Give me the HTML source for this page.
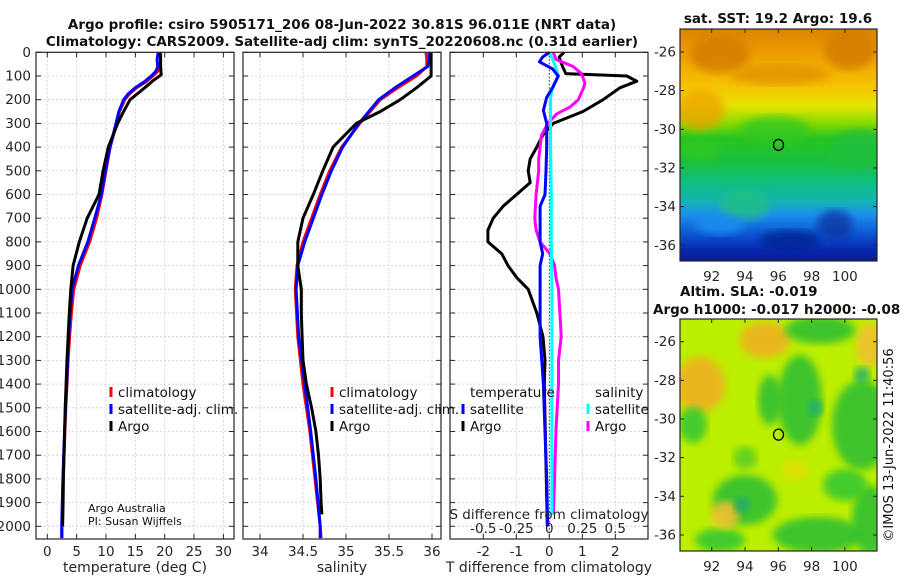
<!DOCTYPE html>
<html><head><meta charset="utf-8">
<style>
body{margin:0;background:#fff;}
svg text{font-family:"DejaVu Sans","Liberation Sans",sans-serif;}
</style></head>
<body>
<svg id="fig" width="900" height="580" viewBox="0 0 900 580" xmlns="http://www.w3.org/2000/svg">
<defs>
<linearGradient id="sstGrad" x1="0" y1="0" x2="0" y2="1">
<stop offset="0" stop-color="#dc8200"/>
<stop offset="0.12" stop-color="#eea000"/>
<stop offset="0.25" stop-color="#f6c400"/>
<stop offset="0.33" stop-color="#e6e400"/>
<stop offset="0.4" stop-color="#90dc00"/>
<stop offset="0.47" stop-color="#28c420"/>
<stop offset="0.58" stop-color="#18c040"/>
<stop offset="0.66" stop-color="#10c080"/>
<stop offset="0.74" stop-color="#14b4b0"/>
<stop offset="0.8" stop-color="#1c90ec"/>
<stop offset="0.88" stop-color="#0c58d4"/>
<stop offset="0.95" stop-color="#0828b0"/>
<stop offset="1" stop-color="#061c90"/>
</linearGradient>
<filter id="blur6"><feGaussianBlur stdDeviation="6"/></filter>
<filter id="blur4"><feGaussianBlur stdDeviation="4"/></filter>
<clipPath id="clipMap1"><rect x="680" y="29" width="197" height="232"/></clipPath>
<clipPath id="clipMap2"><rect x="680" y="319" width="197" height="232"/></clipPath>
</defs>
<g id="layer"></g>
</svg>
<script>
// ---------------- data ----------------
const depthTicks = [0,100,200,300,400,500,600,700,800,900,1000,1100,1200,1300,1400,1500,1600,1700,1800,1900,2000];
const tempTicks = [0,5,10,15,20,25,30];
const salTicks = [34,34.5,35,35.5,36];
const tdiffTicks = [-2,-1,0,1,2];
const sdiffTicks = [-0.5,-0.25,0,0.25,0.5];
const sdiffTickLabels = ["-0.5","-0.25","0","0.25","0.5"];

const argoTDepth = [0,30,60,95,120,150,200,250,300,400,500,600,700,800,900,1000,1100,1200,1300,1400,1500,1600,1700,1800,1900,2000];
const argoTemp   = [19.2,19.3,19.3,19.4,18.0,16.6,14.1,13.0,12.0,10.4,9.5,8.8,6.8,5.45,4.4,4.0,3.75,3.55,3.35,3.2,3.05,2.95,2.85,2.75,2.7,2.6];
const climTDepth = [0,30,60,80,100,125,150,175,200,250,300,400,500,600,700,800,900,1000,1100,1200,1300,1400,1500,1600,1700,1800,1900,2000,2050];
const climTemp   = [19.3,19.3,19.2,18.8,18.0,16.8,15.2,14.0,13.2,12.3,11.8,10.7,10.0,9.3,8.4,7.2,5.6,4.5,4.1,3.8,3.55,3.35,3.15,3.0,2.85,2.7,2.6,2.5,2.5];
const satTemp    = [18.9,18.7,18.8,18.5,17.7,16.5,15.0,13.8,13.0,12.2,11.7,10.7,9.9,9.2,8.1,6.9,5.3,4.2,3.9,3.65,3.45,3.3,3.1,2.95,2.8,2.65,2.55,2.45,2.45];

const argoSDepth = [0,50,100,150,200,250,300,400,500,600,700,800,900,1000,1100,1200,1300,1400,1500,1600,1700,1800,1900,1950];
const argoSal    = [35.99,35.99,35.99,35.82,35.63,35.40,35.12,34.85,34.73,34.62,34.50,34.44,34.44,34.48,34.48,34.49,34.50,34.54,34.60,34.65,34.68,34.70,34.71,34.72];
const climSDepth = [0,30,60,100,150,200,300,400,500,600,700,800,900,1000,1200,1400,1600,1800,2000,2050];
const climSal    = [35.93,35.94,35.94,35.82,35.60,35.40,35.16,34.95,34.81,34.70,34.60,34.50,34.43,34.41,34.44,34.50,34.58,34.64,34.70,34.71];
const satSal     = [35.97,35.97,35.95,35.78,35.57,35.38,35.15,34.96,34.83,34.72,34.62,34.52,34.44,34.42,34.45,34.52,34.59,34.65,34.70,34.70];

const dTDepth  = [0,20,40,60,90,100,122,150,200,250,300,350,400,450,500,550,600,650,700,750,800,850,900,950,1000,1100,1200,1300,1400,1600,1800,2000];
const argoDT   = [0.45,0.3,0.35,0.4,0.5,2.35,2.65,2.14,1.63,1.02,0.12,-0.2,-0.38,-0.58,-0.64,-0.58,-0.99,-1.4,-1.7,-1.86,-1.86,-1.44,-1.25,-0.99,-0.64,-0.38,-0.19,-0.13,-0.15,-0.12,-0.09,-0.06];
const satDTDepth = [0,20,40,70,100,150,190,245,300,400,500,600,650,700,800,850,900,1000,1100,1200,1400,1600,1800,2000];
const satDT    = [0,-0.2,-0.3,0.1,0.27,0.1,-0.08,-0.18,-0.08,-0.08,-0.1,-0.13,-0.28,-0.28,-0.28,-0.2,-0.28,-0.28,-0.28,-0.28,-0.18,-0.13,-0.08,-0.05];
const dSDepth  = [0,30,60,90,130,150,200,230,260,300,350,400,450,500,600,700,750,800,850,900,950,1000,1100,1200,1300,1400,1600,1800,1950];
const argoDS   = [0.03,0.05,0.18,0.245,0.27,0.26,0.22,0.16,0.056,-0.01,-0.06,-0.07,-0.08,-0.08,-0.1,-0.11,-0.1,-0.07,0.005,0.04,0.05,0.07,0.08,0.09,0.07,0.07,0.05,0.04,0.03];
const satDSDepth = [0,50,100,150,200,400,600,800,1000,1200,1400,1600,1800,1950];
const satDS    = [0,0.04,0.07,0.02,0.01,0.01,0.015,0.015,0.02,0.02,0.02,0.02,0.02,0.02];

const lonTicks = [92,94,96,98,100];
const latTicks = [-26,-28,-30,-32,-34,-36];
const argoLon = 96.011, argoLat = -30.81;

// ---------------- helpers ----------------
const NS = "http://www.w3.org/2000/svg";
const root = document.getElementById('layer');
function mk(tag, attrs, parent){ const e=document.createElementNS(NS,tag); for(const k in attrs) e.setAttribute(k,attrs[k]); (parent||root).appendChild(e); return e; }
function txt(x,y,s,attrs,parent){ const e=mk('text',Object.assign({x:x,y:y,'font-size':13.5,fill:'#262626'},attrs||{}),parent); e.textContent=s; return e; }

const top0 = 52.3, pxPerM = 0.237, bottom = 539;
const yD = d => top0 + d*pxPerM;
const panels = [
  {x0:36, x1:234, name:'temperature-panel'},
  {x0:243, x1:441, name:'salinity-panel'},
  {x0:450, x1:648, name:'difference-panel'}
];
const xT = v => 47.3 + v*5.87;
const xS = v => 260 + (v-34)*86;
const xDT = v => 549.3 + v*33;
const xDS = v => 549.3 + v*132;

function drawPanel(p, xTicks, xf, tickLabels, showY){
  const g = mk('g',{});
  
  
  depthTicks.forEach(d=>{
    const l=mk('line',{x1:p.x0,x2:p.x1,y1:yD(d),y2:yD(d),stroke:'#c6cbe0','stroke-width':0.8,'stroke-dasharray':'2,2'},g);
    
    
    mk('line',{x1:p.x0,x2:p.x0+5,y1:yD(d),y2:yD(d),stroke:'#262626'},g);
    mk('line',{x1:p.x1-5,x2:p.x1,y1:yD(d),y2:yD(d),stroke:'#262626'},g);
  });
  xTicks.forEach((v,i)=>{
    const x=xf(v);
    const l=mk('line',{x1:x,x2:x,y1:top0,y2:bottom,stroke:'#c6cbe0','stroke-width':0.8,'stroke-dasharray':'2,2'},g);
    
    
    mk('line',{x1:x,x2:x,y1:bottom-5,y2:bottom,stroke:'#262626'},g);
    mk('line',{x1:x,x2:x,y1:top0,y2:top0+5,stroke:'#262626'},g);
    const t=txt(x,556,tickLabels?tickLabels[i]:String(v),{'text-anchor':'middle'},g);
    
    
  });
  if(showY){
    depthTicks.forEach(d=>{
      const t=txt(31,yD(d)+4.5,String(d),{'text-anchor':'end'},g);
      
      
    });
  }
  return g;
}
function line(g, depths, vals, xf, color, name, w){
  const pts = depths.map((d,i)=>xf(vals[i]).toFixed(1)+','+yD(d).toFixed(1)).join(' ');
  const e = mk('polyline',{points:pts,fill:'none',stroke:color,'stroke-width':w||3,'stroke-linejoin':'round'},g);
  
  
  return e;
}
function frame(p,g){ mk('rect',{x:p.x0,y:top0,width:p.x1-p.x0,height:bottom-top0,fill:'none',stroke:'#262626','stroke-width':1.2},g); }

// Panel 1
const g1 = drawPanel(panels[0], tempTicks, xT, null, true);
line(g1, climTDepth, climTemp, xT, '#ff0000', 'climatology-temperature-line');
line(g1, climTDepth, satTemp, xT, '#0000ff', 'satellite-adj-temperature-line');
line(g1, argoTDepth, argoTemp, xT, '#000000', 'argo-temperature-line');
frame(panels[0], g1);
// Panel 2
const g2 = drawPanel(panels[1], salTicks, xS, null, false);
line(g2, climSDepth, climSal, xS, '#ff0000', 'climatology-salinity-line');
line(g2, climSDepth, satSal, xS, '#0000ff', 'satellite-adj-salinity-line');
line(g2, argoSDepth, argoSal, xS, '#000000', 'argo-salinity-line');
frame(panels[1], g2);
// Panel 3
const g3 = drawPanel(panels[2], tdiffTicks, xDT, null, false);
mk('line',{x1:549.3,x2:549.3,y1:top0,y2:bottom,stroke:'#333','stroke-width':1,'stroke-dasharray':'1.5,2'},g3);
line(g3, dTDepth, argoDT, xDT, '#000000', 'argo-temperature-difference-line');
line(g3, dSDepth, argoDS, xDS, '#ff00ff', 'argo-salinity-difference-line');
line(g3, satDSDepth, satDS, xDS, '#00ffff', 'satellite-salinity-difference-line');
line(g3, satDTDepth, satDT, xDT, '#0000ff', 'satellite-temperature-difference-line');
sdiffTicks.forEach((v,i)=>{
  const t=txt(xDS(v),533,sdiffTickLabels[i],{'text-anchor':'middle'},g3);
  
  
});
const sdl=txt(549,519,'S difference from climatology',{'text-anchor':'middle'},g3);


frame(panels[2], g3);

// Axis titles
[[135,'temperature (deg C)','x-axis-title-temperature'],[342,'salinity','x-axis-title-salinity'],[549,'T difference from climatology','x-axis-title-t-difference']].forEach(a=>{
  const t=txt(a[0],572,a[1],{'text-anchor':'middle','font-size':14});
  
  
});

// Legends
function legendEntry(x,y,color,label,name){
  const g=mk('g',{});
  
  
  mk('rect',{x:x-1.5,y:y-9,width:3,height:10,fill:color},g);
  txt(x+7,y+1,label,{'font-size':13.5,fill:'#111'},g);
}
legendEntry(111,396,'#ff0000','climatology','legend-entry-climatology');
legendEntry(111,413,'#0000ff','satellite-adj. clim.','legend-entry-satellite-adj');
legendEntry(111,430,'#000000','Argo','legend-entry-argo');
legendEntry(332,396,'#ff0000','climatology','legend-entry-climatology-sal');
legendEntry(332,413,'#0000ff','satellite-adj. clim.','legend-entry-satellite-adj-sal');
legendEntry(332,430,'#000000','Argo','legend-entry-argo-sal');
const lt=txt(470,397,'temperature',{fill:'#111'});  
const ls=txt(595,397,'salinity',{fill:'#111'});  
legendEntry(463,413,'#0000ff','satellite','legend-entry-t-satellite');
legendEntry(463,430,'#000000','Argo','legend-entry-t-argo');
legendEntry(588,413,'#00ffff','satellite','legend-entry-s-satellite');
legendEntry(588,430,'#ff00ff','Argo','legend-entry-s-argo');
const c1=txt(88,512,'Argo Australia',{'font-size':11,fill:'#111'});  
const c2=txt(88,525,'PI: Susan Wijffels',{'font-size':11,fill:'#111'});  

// Titles
const t1=txt(342,29,'Argo profile: csiro 5905171_206 08-Jun-2022 30.81S 96.011E (NRT data)',{'text-anchor':'middle','font-weight':'bold','font-size':13.5,fill:'#111'});
 
const t2=txt(342,46,'Climatology: CARS2009. Satellite-adj clim: synTS_20220608.nc (0.31d earlier)',{'text-anchor':'middle','font-weight':'bold','font-size':13.5,fill:'#111'});
 

// ---------------- maps ----------------
const lonX = v => 778.3 + (v-96)*16.65;
function latY(base){ return v => base + (v+30)*(-19.33); }
function mapAxes(y0, baseLat, name){
  const g=mk('g',{});
  
  
  const ly = latY(baseLat);
  latTicks.forEach(v=>{
    const y=ly(v);
    mk('line',{x1:680,x2:684,y1:y,y2:y,stroke:'#262626'},g);
    mk('line',{x1:873,x2:877,y1:y,y2:y,stroke:'#262626'},g);
    const t=txt(676,y+4.5,String(v),{'text-anchor':'end'},g);
     
  });
  lonTicks.forEach(v=>{
    const x=lonX(v);
    mk('line',{x1:x,x2:x,y1:y0+228,y2:y0+232,stroke:'#262626'},g);
    mk('line',{x1:x,x2:x,y1:y0,y2:y0+4,stroke:'#262626'},g);
    const t=txt(x,y0+252,String(v),{'text-anchor':'middle'},g);
     
  });
  mk('rect',{x:680,y:y0,width:197,height:232,fill:'none',stroke:'#262626','stroke-width':1.2},g);
  const c=mk('ellipse',{cx:lonX(argoLon),cy:ly(argoLat),rx:5,ry:5.5,fill:'none',stroke:'#000','stroke-width':1.3},g);
   
  return g;
}
// SST map
const m1=mk('g',{'clip-path':'url(#clipMap1)'});
 
mk('rect',{x:680,y:29,width:197,height:232,fill:'url(#sstGrad)'},m1);
const sstBlobs=[[720,55,30,18,'#d07800'],[850,50,25,20,'#d07800'],[780,75,50,10,'#e09000'],[700,110,25,20,'#eea000'],[775,130,35,14,'#30c820'],[860,150,30,20,'#20c040'],[745,205,25,15,'#20c080'],[720,225,25,10,'#1e90f0'],[790,240,30,10,'#06208c'],[835,225,18,15,'#0830a0'],[700,150,20,12,'#30c820']];
sstBlobs.forEach(b=>mk('ellipse',{cx:b[0],cy:b[1],rx:b[2],ry:b[3],fill:b[4],opacity:0.75,filter:'url(#blur4)'},m1));
mapAxes(29, 129.3, 'sst-map-axes');
const st=txt(778,23,'sat. SST: 19.2 Argo: 19.6',{'text-anchor':'middle','font-weight':'bold','font-size':13.5,fill:'#111'});
 
// SLA map
const m2=mk('g',{'clip-path':'url(#clipMap2)'});
 
mk('rect',{x:680,y:319,width:197,height:232,fill:'#bcee00'},m2);
const slaBlobs=[[700,385,25,28,'#f0b020'],[765,340,25,18,'#f0b020'],[870,345,14,22,'#f0c030'],[820,330,35,14,'#30c030'],[800,400,22,45,'#30c030'],[770,400,12,25,'#30c030'],[862,425,30,45,'#30c030'],[693,425,14,18,'#38c830'],[745,500,32,25,'#30c030'],[818,535,45,18,'#30c030'],[870,520,18,35,'#30c030'],[845,485,22,16,'#38c830'],[720,540,25,12,'#38c830'],[725,515,14,14,'#f0c030'],[745,458,12,12,'#60d020'],[795,470,14,10,'#e0e000'],[815,408,8,8,'#20b070'],[862,375,8,8,'#20b070'],[742,505,8,8,'#20a870']];
slaBlobs.forEach(b=>mk('ellipse',{cx:b[0],cy:b[1],rx:b[2],ry:b[3],fill:b[4],opacity:0.9,filter:'url(#blur4)'},m2));
mapAxes(319, 419, 'sla-map-axes');
const a1=txt(680,296,'Altim. SLA: -0.019',{'font-weight':'bold','font-size':13.5,fill:'#111'});
 
const a2=txt(653,314,'Argo h1000: -0.017 h2000: -0.089',{'font-weight':'bold','font-size':13.5,fill:'#111'});
 
const im=txt(0,0,'©IMOS 13-Jun-2022 11:40:56',{'text-anchor':'middle','font-size':13,fill:'#111',transform:'translate(893,445) rotate(-90)'});
 
</script>
</body></html>
